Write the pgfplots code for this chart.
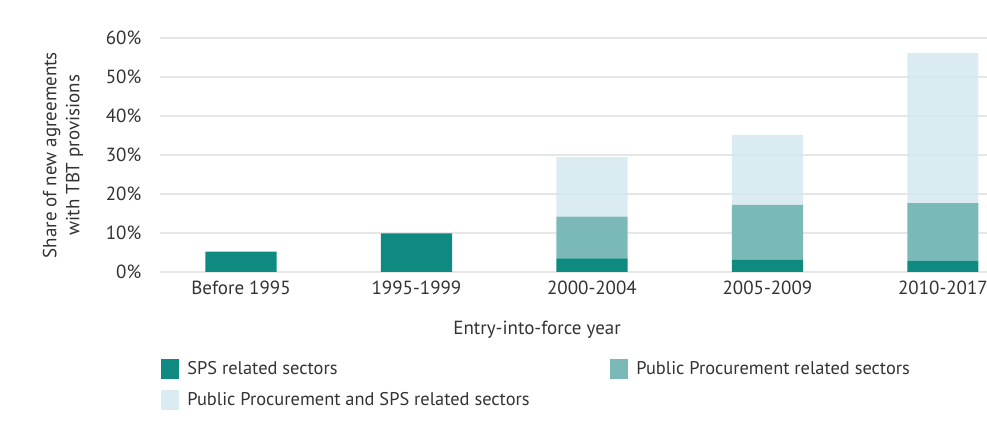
\documentclass[border=0pt]{standalone}
\usepackage{pgfplots}
\pgfplotsset{compat=1.18}
\usepackage{fontspec}
\setmainfont{PT Sans}
\definecolor{spsc}{HTML}{0E8A80}
\definecolor{ppc}{HTML}{7BB9B9}
\definecolor{bothc}{HTML}{D3E8EE}
\definecolor{gridc}{HTML}{E6E6E6}
\definecolor{txtc}{HTML}{333333}
\begin{document}
\fontsize{9.5}{11.5}\selectfont
\begin{tikzpicture}
\path[use as bounding box] (0pt,0pt) rectangle (493.5pt,213pt);
\begin{axis}[
  at={(80pt,77pt)}, anchor=south west,
  scale only axis, width=413.5pt, height=116.85pt,
  ybar stacked, bar width=0.405,
  xmin=-0.4615, xmax=4.251, ymin=0, ymax=60,
  xtick=data, xticklabels={Before 1995,1995-1999,2000-2004,2005-2009,2010-2017},
  ytick={0,10,...,60}, yticklabel={\pgfmathprintnumber{\tick}\%},
  /pgf/number format/assume math mode=true,
  axis line style={draw=none}, major tick length=0pt,
  ymajorgrids, grid style={gridc, line width=0.8pt},
  tick label style={txtc, font=\fontsize{9.5}{11.5}\selectfont},
  yticklabel style={xshift=-6pt},
  xticklabel style={yshift=-1pt},
  ylabel={Share of new agreements\\with TBT provisions},
  ylabel style={at={([xshift=-48.5pt]axis description cs:0,0.5)}, anchor=center, align=center, txtc, font=\fontsize{9.5}{11.5}\selectfont},
  xlabel={Entry-into-force year},
  xlabel style={at={([yshift=-29pt]axis description cs:0.456,0)}, anchor=center, txtc, font=\fontsize{9.5}{11.5}\selectfont},
  legend columns=2,
  legend style={at={([xshift=0.5pt,yshift=-42.5pt]axis description cs:0,0)}, anchor=north west, draw=none, fill=none, inner sep=0pt, row sep=3.5pt, font=\fontsize{9.2}{11}\selectfont, text=txtc},
  legend cell align=left,
  legend image code/.code={\fill[#1] (0pt,-5pt) rectangle (9pt,5pt);},
]
\addplot+[fill=spsc, draw=none] coordinates {(0,5.2) (1,9.9) (2,3.5) (3,3.1) (4,2.9)};
\addlegendentry{\hspace{2pt}\makebox[209.5pt][l]{SPS related sectors}}
\addplot+[fill=ppc, draw=none] coordinates {(0,0) (1,0) (2,10.7) (3,14.1) (4,14.8)};
\addlegendentry{\hspace{2pt}Public Procurement related sectors}
\addplot+[fill=bothc, fill opacity=0.85, draw=none] coordinates {(0,0) (1,0) (2,15.3) (3,18.0) (4,38.5)};
\addlegendentry{\hspace{2pt}\makebox[209.5pt][l]{Public Procurement and SPS related sectors}}
\end{axis}
\end{tikzpicture}
\end{document}
